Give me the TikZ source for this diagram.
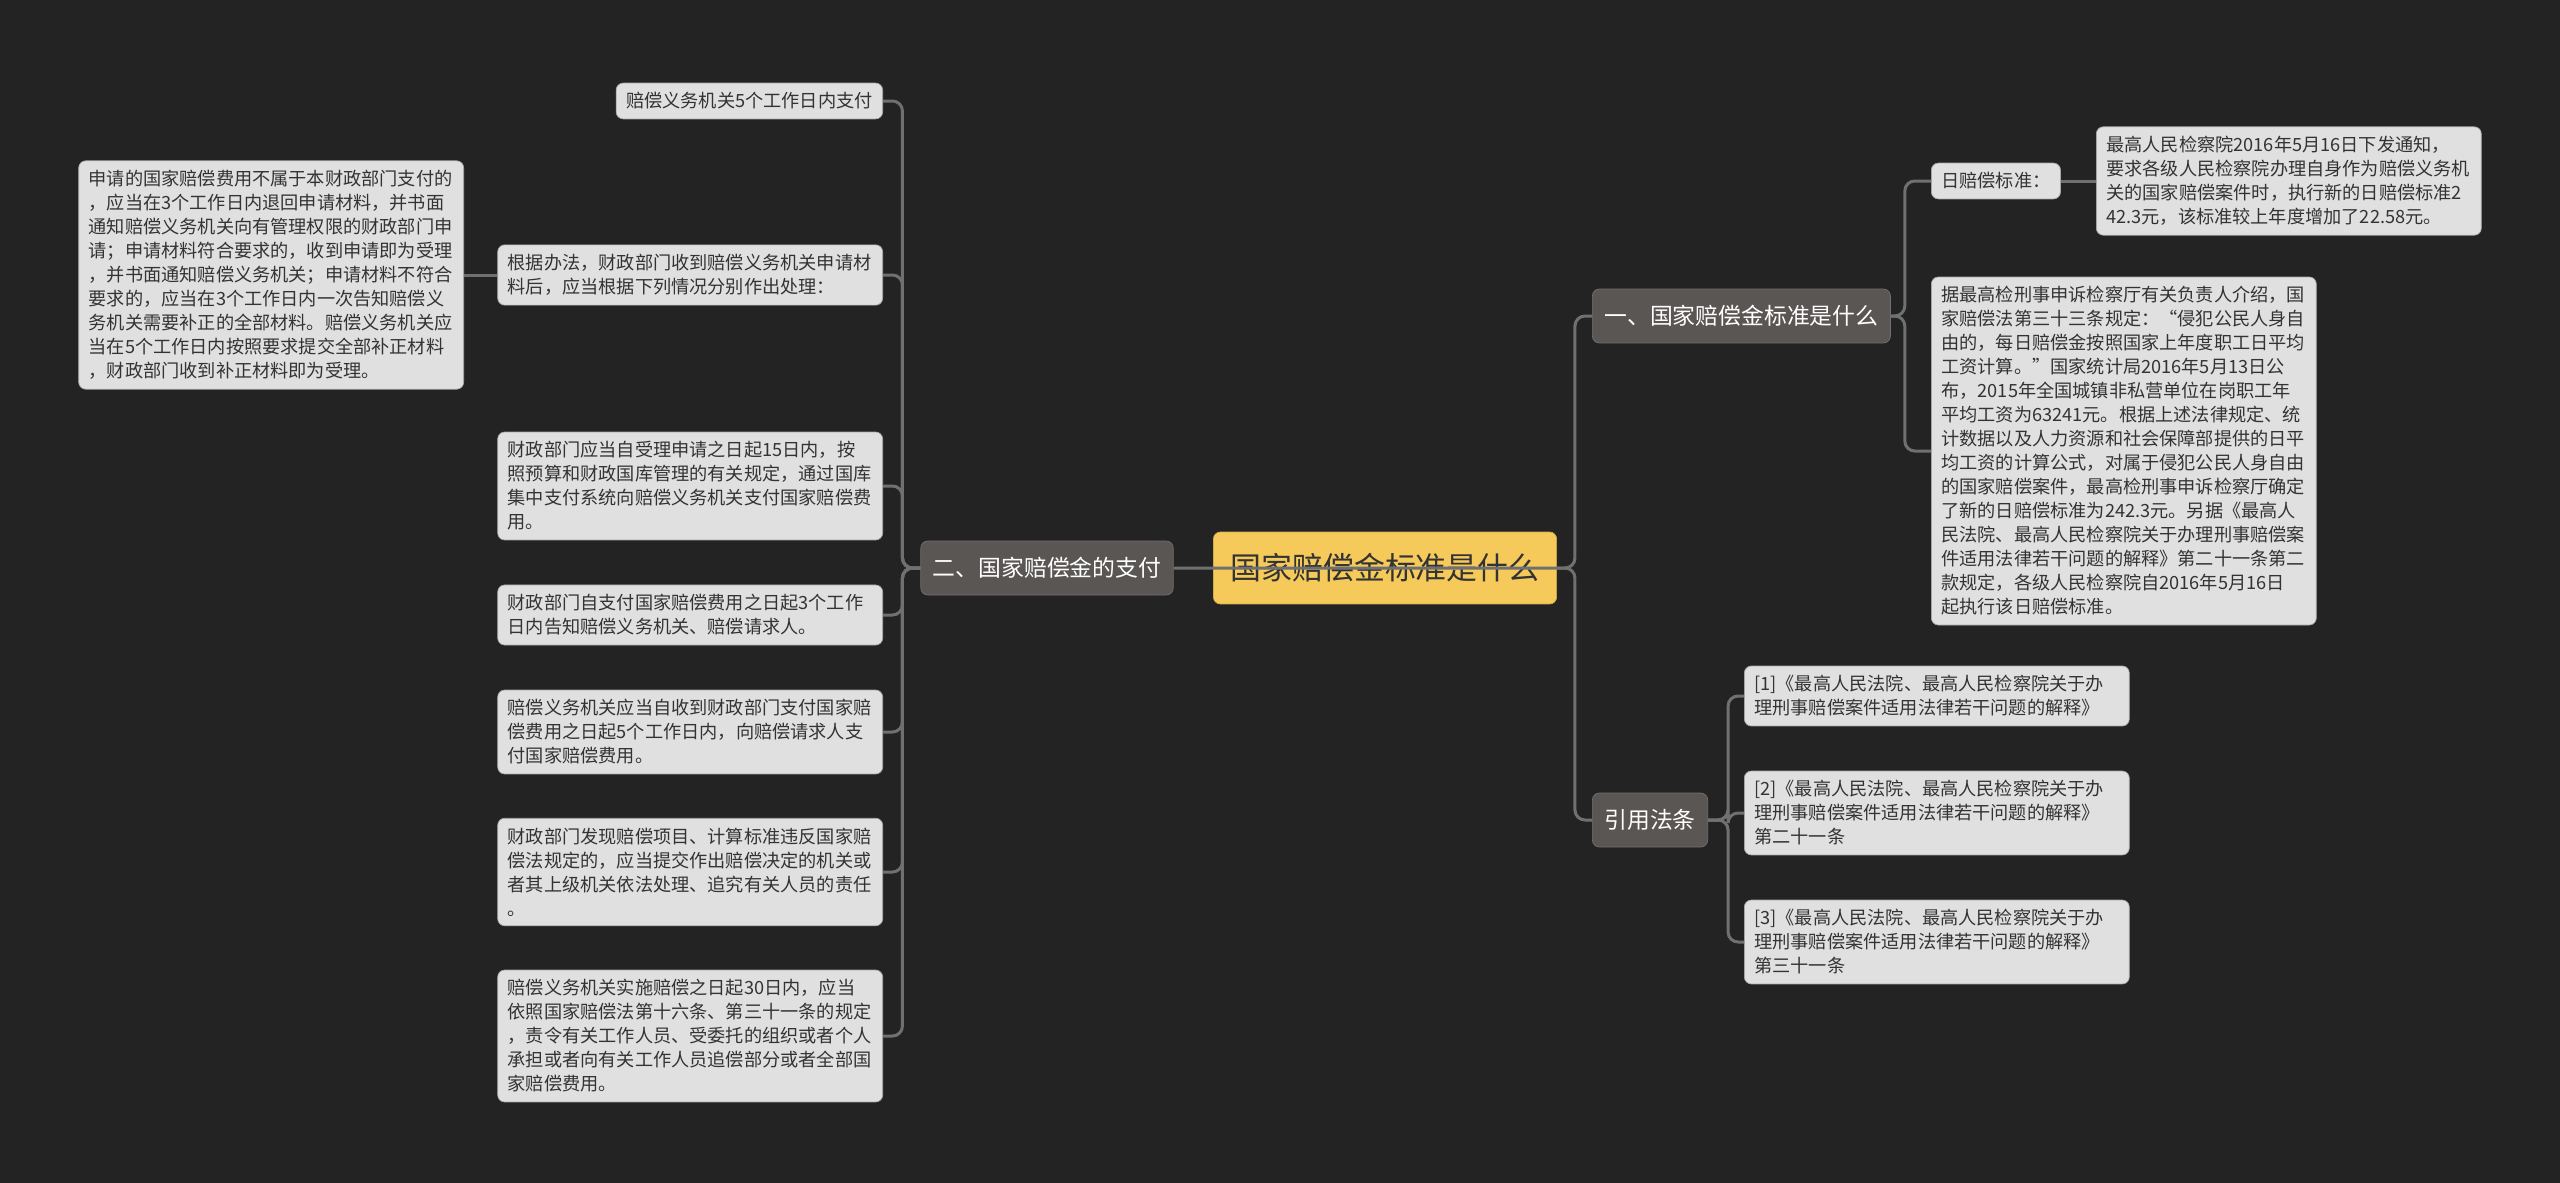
\documentclass[tikz,border=0pt]{standalone}
\usepackage{fontspec}
\setmainfont{Noto Sans CJK SC}
\usepackage{xcolor}
\usepackage{tikz}
\definecolor{bgdark}{HTML}{232323}
\definecolor{leafgray}{HTML}{E0E0E0}
\definecolor{branchgray}{HTML}{5A5654}
\definecolor{rootyellow}{HTML}{F5CA5A}
\definecolor{linegray}{HTML}{707070}
\definecolor{inkdark}{HTML}{333333}

\begin{document}
\begin{tikzpicture}[x=0.02cm, y=-0.02cm,
  every node/.style={rectangle, rounded corners=0.14cm, align=left},
  leaf/.style={fill=leafgray, draw=leafgray!75!black, line width=0.4pt, text=inkdark,
    font=\fontsize{10.35pt}{13.66pt}\selectfont, inner xsep=0.2cm, inner ysep=0.19cm},
  wide/.style={leaf, text width=7.3cm},
  branch/.style={fill=branchgray, draw=branchgray!85!white, line width=0.4pt, text=white,
    font=\fontsize{13pt}{15pt}\selectfont, inner xsep=0.24cm, minimum height=1.08cm},
  rootbox/.style={fill=rootyellow, draw=rootyellow!85!black, line width=0.4pt, text=inkdark,
    font=\fontsize{17.6pt}{20pt}\selectfont, inner xsep=0.34cm, minimum height=1.44cm},
  link/.style={draw=linegray, line width=0.06cm, rounded corners=0.2cm}]
  \fill[bgdark] (0,0) rectangle (2560,1183);
  \useasboundingbox (0,0) rectangle (2560,1183);
  \node[rootbox] (root) at (1385,568) {国家赔偿金标准是什么};
  \node[branch] (b2) at (1047,568) {二、国家赔偿金的支付};
  \node[branch, anchor=west] (b1) at (1592,316) {一、国家赔偿金标准是什么};
  \node[branch, anchor=west] (b3) at (1592,820) {引用法条};
  \node[leaf, anchor=east] (L1) at (883,101) {赔偿义务机关5个工作日内支付};
  \node[wide, anchor=east] (L2) at (883,275) {根据办法，财政部门收到赔偿义务机关申请材\\料后，应当根据下列情况分别作出处理：};
  \node[wide, anchor=east] (L2a) at (464,275) {申请的国家赔偿费用不属于本财政部门支付的\\，应当在3个工作日内退回申请材料，并书面\\通知赔偿义务机关向有管理权限的财政部门申\\请；申请材料符合要求的，收到申请即为受理\\，并书面通知赔偿义务机关；申请材料不符合\\要求的，应当在3个工作日内一次告知赔偿义\\务机关需要补正的全部材料。赔偿义务机关应\\当在5个工作日内按照要求提交全部补正材料\\，财政部门收到补正材料即为受理。};
  \node[wide, anchor=east] (L3) at (883,486) {财政部门应当自受理申请之日起15日内，按\\照预算和财政国库管理的有关规定，通过国库\\集中支付系统向赔偿义务机关支付国家赔偿费\\用。};
  \node[wide, anchor=east] (L4) at (883,615) {财政部门自支付国家赔偿费用之日起3个工作\\日内告知赔偿义务机关、赔偿请求人。};
  \node[wide, anchor=east] (L5) at (883,732) {赔偿义务机关应当自收到财政部门支付国家赔\\偿费用之日起5个工作日内，向赔偿请求人支\\付国家赔偿费用。};
  \node[wide, anchor=east] (L6) at (883,872) {财政部门发现赔偿项目、计算标准违反国家赔\\偿法规定的，应当提交作出赔偿决定的机关或\\者其上级机关依法处理、追究有关人员的责任\\。};
  \node[wide, anchor=east] (L7) at (883,1036) {赔偿义务机关实施赔偿之日起30日内，应当\\依照国家赔偿法第十六条、第三十一条的规定\\，责令有关工作人员、受委托的组织或者个人\\承担或者向有关工作人员追偿部分或者全部国\\家赔偿费用。};
  \node[leaf, anchor=west] (day) at (1931,181) {日赔偿标准：};
  \node[wide, anchor=west] (leafA) at (2096,181) {最高人民检察院2016年5月16日下发通知，\\要求各级人民检察院办理自身作为赔偿义务机\\关的国家赔偿案件时，执行新的日赔偿标准2\\42.3元，该标准较上年度增加了22.58元。};
  \node[wide, anchor=west] (leafB) at (1931,451) {据最高检刑事申诉检察厅有关负责人介绍，国\\家赔偿法第三十三条规定：“侵犯公民人身自\\由的，每日赔偿金按照国家上年度职工日平均\\工资计算。”国家统计局2016年5月13日公\\布，2015年全国城镇非私营单位在岗职工年\\平均工资为63241元。根据上述法律规定、统\\计数据以及人力资源和社会保障部提供的日平\\均工资的计算公式，对属于侵犯公民人身自由\\的国家赔偿案件，最高检刑事申诉检察厅确定\\了新的日赔偿标准为242.3元。另据《最高人\\民法院、最高人民检察院关于办理刑事赔偿案\\件适用法律若干问题的解释》第二十一条第二\\款规定，各级人民检察院自2016年5月16日\\起执行该日赔偿标准。};
  \node[wide, anchor=west] (r1) at (1744,696) {[1]《最高人民法院、最高人民检察院关于办\\理刑事赔偿案件适用法律若干问题的解释》};
  \node[wide, anchor=west] (r2) at (1744,813) {[2]《最高人民法院、最高人民检察院关于办\\理刑事赔偿案件适用法律若干问题的解释》\\第二十一条};
  \node[wide, anchor=west] (r3) at (1744,942) {[3]《最高人民法院、最高人民检察院关于办\\理刑事赔偿案件适用法律若干问题的解释》\\第三十一条};
  \draw[link] (b2.east) -- (root.east) -- ++(18,0) |- (b1.west);
  \draw[link] (root.east) -- ++(18,0) |- (b3.west);
  \foreach \n in {L1,L2,L3,L4,L5,L6,L7}
    \draw[link] (b2.west) -- ++(-18,0) |- (\n.east);
  \draw[link] (L2.west) -- (L2a.east);
  \draw[link] (b1.east) -- ++(14,0) |- (day.west);
  \draw[link] (b1.east) -- ++(14,0) |- (leafB.west);
  \draw[link] (day.east) -- (leafA.west);
  \foreach \n in {r1,r2,r3}
    \draw[link] (b3.east) -- ++(20,0) |- (\n.west);
\end{tikzpicture}
\end{document}
